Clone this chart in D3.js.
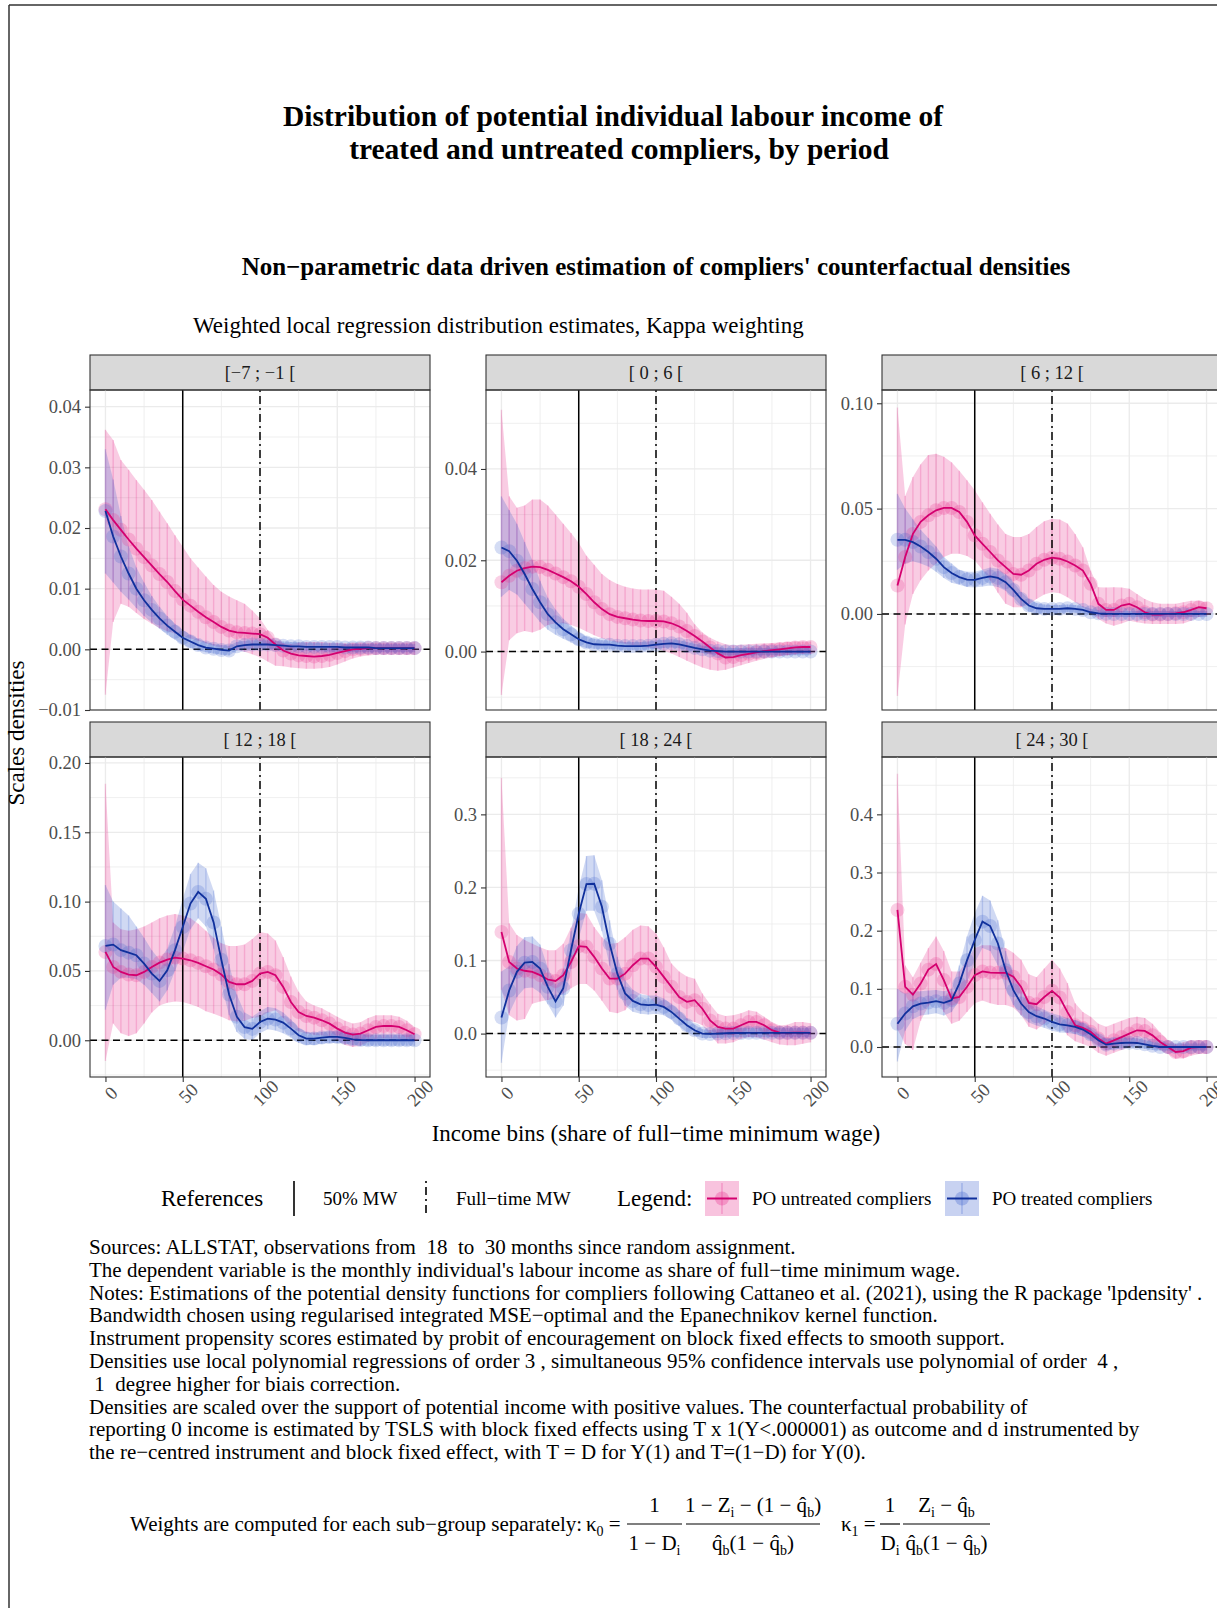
<!DOCTYPE html>
<html>
<head>
<meta charset="utf-8">
<script src="https://cdn.jsdelivr.net/npm/d3@7"></script>
<style>
  body { margin: 0; background: #fff; }
  svg { display: block; }
</style>
</head>
<body>
<script>
// income bins (share of full-time minimum wage)
var bins = [0,5,10,15,20,25,30,35,40,45,50,55,60,65,70,75,80,85,90,95,100,105,110,115,120,125,130,135,140,145,150,155,160,165,170,175,180,185,190,195,200];
var periods = ["[\u22127 ; \u22121 [", "[ 0 ; 6 [", "[ 6 ; 12 [", "[ 12 ; 18 [", "[ 18 ; 24 [", "[ 24 ; 30 ["];
var xTicks = [0, 50, 100, 150, 200];
var refHalfMW = 50, refFullMW = 100;

// y limits and ticks of each facet (free y scales)
var yLimits = [[-0.01, 0.04275], [-0.0128, 0.0573], [-0.0456, 0.1063], [-0.0265, 0.2043], [-0.0594, 0.3785], [-0.0516, 0.4986]];
var yTicks = [[-0.01,0,0.01,0.02,0.03,0.04], [0,0.02,0.04], [0,0.05,0.1], [0,0.05,0.1,0.15,0.2], [0,0.1,0.2,0.3], [0,0.1,0.2,0.3,0.4]];
var yFormats = [".2f", ".2f", ".2f", ".2f", ".1f", ".1f"];

// [-7 ; -1 [
var untreatedEst1 = [0.0231,0.0213,0.0197,0.0181,0.0166,0.0152,0.0138,0.0124,0.0111,0.0096,0.0082,0.0072,0.0062,0.0053,0.0045,0.0037,0.0031,0.0028,0.0027,0.0026,0.0025,0.0019,0.0008,-0.0002,-0.0007,-0.0010,-0.0011,-0.0012,-0.0011,-0.0009,-0.0006,-0.0003,0.0000,0.0001,0.0002,0.0002,0.0002,0.0002,0.0002,0.0002,0.0002];
var untreatedLo1 = [-0.0075,0.0045,0.0075,0.0070,0.0060,0.0050,0.0042,0.0035,0.0030,0.0026,0.0022,0.0018,0.0014,0.0010,0.0006,0.0003,0.0001,-0.0001,-0.0004,-0.0008,-0.0013,-0.0020,-0.0027,-0.0028,-0.0030,-0.0031,-0.0032,-0.0032,-0.0031,-0.0029,-0.0025,-0.0020,-0.0015,-0.0012,-0.0010,-0.0009,-0.0009,-0.0009,-0.0009,-0.0009,-0.0009];
var untreatedHi1 = [0.0362,0.0345,0.0312,0.0296,0.0279,0.0263,0.0246,0.0227,0.0208,0.0188,0.0169,0.0150,0.0135,0.0120,0.0106,0.0095,0.0087,0.0081,0.0075,0.0064,0.0051,0.0032,0.0015,0.0010,0.0009,0.0011,0.0012,0.0012,0.0012,0.0011,0.0011,0.0010,0.0010,0.0010,0.0010,0.0011,0.0011,0.0011,0.0011,0.0011,0.0012];
var treatedEst1 = [0.0228,0.0186,0.0153,0.0125,0.0100,0.0081,0.0065,0.0051,0.0039,0.0029,0.0019,0.0013,0.0007,0.0003,0.0001,-0.0001,-0.0002,0.0005,0.0007,0.0008,0.0008,0.0008,0.0007,0.0006,0.0005,0.0005,0.0004,0.0004,0.0004,0.0004,0.0004,0.0003,0.0003,0.0003,0.0003,0.0002,0.0002,0.0002,0.0002,0.0002,0.0002];
var treatedLo1 = [0.0125,0.0110,0.0095,0.0082,0.0068,0.0055,0.0044,0.0034,0.0024,0.0016,0.0008,0.0002,-0.0002,-0.0005,-0.0007,-0.0009,-0.0010,-0.0002,0.0000,0.0001,0.0001,0.0001,0.0000,0.0000,-0.0001,-0.0002,-0.0002,-0.0003,-0.0003,-0.0004,-0.0004,-0.0004,-0.0005,-0.0005,-0.0005,-0.0005,-0.0005,-0.0005,-0.0005,-0.0005,-0.0005];
var treatedHi1 = [0.0330,0.0280,0.0220,0.0170,0.0135,0.0110,0.0088,0.0070,0.0055,0.0042,0.0032,0.0024,0.0017,0.0012,0.0009,0.0007,0.0006,0.0012,0.0014,0.0015,0.0015,0.0015,0.0014,0.0013,0.0012,0.0012,0.0011,0.0011,0.0010,0.0010,0.0010,0.0009,0.0009,0.0009,0.0009,0.0009,0.0009,0.0009,0.0009,0.0009,0.0009];

// [ 0 ; 6 [
var untreatedEst2 = [0.0152,0.0166,0.0177,0.0183,0.0186,0.0185,0.0179,0.0171,0.0163,0.0154,0.0142,0.0126,0.0108,0.0093,0.0082,0.0076,0.0073,0.0070,0.0068,0.0067,0.0067,0.0066,0.0062,0.0055,0.0045,0.0034,0.0022,0.0009,-0.0004,-0.0013,-0.0012,-0.0008,-0.0005,-0.0002,0.0001,0.0003,0.0005,0.0007,0.0009,0.0010,0.0010];
var untreatedLo2 = [-0.0095,0.0025,0.0040,0.0045,0.0042,0.0048,0.0058,0.0062,0.0062,0.0058,0.0052,0.0044,0.0036,0.0029,0.0024,0.0020,0.0017,0.0014,0.0011,0.0009,0.0006,0.0002,-0.0004,-0.0012,-0.0020,-0.0028,-0.0035,-0.0040,-0.0042,-0.0040,-0.0035,-0.0030,-0.0025,-0.0020,-0.0016,-0.0013,-0.0010,-0.0008,-0.0006,-0.0005,-0.0005];
var untreatedHi2 = [0.0530,0.0340,0.0315,0.0320,0.0333,0.0333,0.0320,0.0300,0.0280,0.0260,0.0238,0.0210,0.0190,0.0170,0.0157,0.0148,0.0142,0.0138,0.0136,0.0136,0.0136,0.0133,0.0120,0.0105,0.0085,0.0060,0.0042,0.0030,0.0022,0.0016,0.0014,0.0015,0.0016,0.0017,0.0018,0.0019,0.0020,0.0021,0.0022,0.0022,0.0022];
var treatedEst2 = [0.0228,0.0220,0.0199,0.0170,0.0137,0.0108,0.0082,0.0064,0.0049,0.0038,0.0027,0.0020,0.0016,0.0015,0.0015,0.0013,0.0012,0.0012,0.0012,0.0013,0.0015,0.0017,0.0018,0.0016,0.0012,0.0008,0.0005,0.0002,0.0001,0.0000,0.0000,0.0000,0.0000,0.0000,0.0000,0.0000,0.0000,0.0000,0.0000,0.0000,0.0000];
var treatedLo2 = [0.0120,0.0135,0.0125,0.0105,0.0085,0.0065,0.0048,0.0037,0.0028,0.0020,0.0012,0.0008,0.0006,0.0005,0.0005,0.0004,0.0003,0.0003,0.0003,0.0004,0.0006,0.0008,0.0009,0.0007,0.0003,-0.0001,-0.0003,-0.0006,-0.0007,-0.0008,-0.0008,-0.0008,-0.0008,-0.0008,-0.0008,-0.0008,-0.0008,-0.0008,-0.0008,-0.0008,-0.0008];
var treatedHi2 = [0.0340,0.0310,0.0280,0.0240,0.0200,0.0155,0.0118,0.0092,0.0072,0.0057,0.0043,0.0033,0.0028,0.0025,0.0024,0.0022,0.0021,0.0021,0.0021,0.0022,0.0024,0.0026,0.0027,0.0025,0.0021,0.0017,0.0013,0.0010,0.0009,0.0008,0.0008,0.0008,0.0008,0.0008,0.0008,0.0008,0.0008,0.0008,0.0008,0.0008,0.0008];

// [ 6 ; 12 [
var untreatedEst3 = [0.0135,0.0270,0.0380,0.0437,0.0468,0.0492,0.0503,0.0503,0.0484,0.0437,0.0373,0.0333,0.0294,0.0254,0.0222,0.0190,0.0186,0.0206,0.0238,0.0257,0.0267,0.0262,0.0249,0.0230,0.0206,0.0143,0.0048,0.0019,0.0019,0.0040,0.0048,0.0032,0.0008,-0.0003,-0.0003,0.0000,0.0003,0.0008,0.0019,0.0032,0.0027];
var untreatedLo3 = [-0.0390,-0.0050,0.0095,0.0160,0.0206,0.0240,0.0270,0.0286,0.0286,0.0275,0.0254,0.0210,0.0159,0.0100,0.0048,0.0032,0.0032,0.0045,0.0071,0.0092,0.0103,0.0098,0.0079,0.0055,0.0032,0.0005,-0.0024,-0.0045,-0.0056,-0.0045,-0.0032,-0.0040,-0.0045,-0.0048,-0.0048,-0.0048,-0.0048,-0.0045,-0.0032,-0.0015,-0.0008];
var untreatedHi3 = [0.0980,0.0560,0.0650,0.0710,0.0754,0.0760,0.0746,0.0720,0.0680,0.0635,0.0587,0.0530,0.0476,0.0425,0.0380,0.0365,0.0365,0.0380,0.0413,0.0440,0.0452,0.0448,0.0429,0.0380,0.0317,0.0206,0.0127,0.0125,0.0127,0.0125,0.0120,0.0095,0.0071,0.0055,0.0048,0.0048,0.0048,0.0055,0.0063,0.0063,0.0056];
var treatedEst3 = [0.0352,0.0352,0.0341,0.0320,0.0294,0.0262,0.0222,0.0194,0.0175,0.0163,0.0162,0.0171,0.0178,0.0171,0.0151,0.0114,0.0071,0.0040,0.0027,0.0024,0.0024,0.0024,0.0027,0.0024,0.0019,0.0008,0.0003,0.0001,0.0000,0.0000,0.0000,0.0000,0.0000,0.0000,0.0000,0.0000,0.0000,0.0000,0.0000,0.0000,0.0000];
var treatedLo3 = [0.0210,0.0240,0.0250,0.0240,0.0225,0.0200,0.0170,0.0148,0.0138,0.0128,0.0125,0.0130,0.0135,0.0128,0.0110,0.0078,0.0038,0.0010,0.0002,0.0002,0.0004,0.0005,0.0008,0.0006,0.0002,-0.0008,-0.0012,-0.0014,-0.0014,-0.0014,-0.0014,-0.0014,-0.0014,-0.0014,-0.0014,-0.0014,-0.0014,-0.0014,-0.0014,-0.0014,-0.0014];
var treatedHi3 = [0.0570,0.0500,0.0450,0.0400,0.0360,0.0320,0.0270,0.0240,0.0210,0.0200,0.0200,0.0210,0.0220,0.0215,0.0190,0.0150,0.0105,0.0072,0.0052,0.0045,0.0043,0.0043,0.0045,0.0042,0.0036,0.0025,0.0018,0.0015,0.0014,0.0014,0.0014,0.0014,0.0014,0.0014,0.0014,0.0014,0.0014,0.0014,0.0014,0.0014,0.0014];

// [ 12 ; 18 [
var untreatedEst4 = [0.0637,0.0529,0.0493,0.0474,0.0469,0.0493,0.0529,0.0560,0.0582,0.0596,0.0589,0.0577,0.0558,0.0534,0.0510,0.0474,0.0421,0.0404,0.0404,0.0428,0.0481,0.0493,0.0469,0.0385,0.0276,0.0204,0.0175,0.0163,0.0144,0.0120,0.0084,0.0055,0.0041,0.0048,0.0072,0.0096,0.0103,0.0103,0.0096,0.0072,0.0043];
var untreatedLo4 = [-0.0150,0.0120,0.0050,0.0030,0.0050,0.0120,0.0200,0.0250,0.0270,0.0280,0.0276,0.0260,0.0240,0.0210,0.0192,0.0170,0.0144,0.0135,0.0140,0.0160,0.0168,0.0200,0.0216,0.0160,0.0096,0.0065,0.0048,0.0040,0.0036,0.0020,0.0000,-0.0035,-0.0048,-0.0040,-0.0010,0.0010,0.0015,0.0012,0.0010,0.0005,-0.0005];
var untreatedHi4 = [0.1850,0.0850,0.0800,0.0790,0.0800,0.0820,0.0850,0.0880,0.0900,0.0910,0.0900,0.0880,0.0840,0.0790,0.0740,0.0700,0.0680,0.0680,0.0690,0.0730,0.0780,0.0770,0.0720,0.0600,0.0460,0.0350,0.0280,0.0250,0.0230,0.0200,0.0170,0.0140,0.0120,0.0130,0.0160,0.0180,0.0180,0.0180,0.0170,0.0140,0.0096];
var treatedEst4 = [0.0680,0.0690,0.0650,0.0632,0.0613,0.0553,0.0481,0.0428,0.0505,0.0650,0.0817,0.0986,0.1070,0.1020,0.0850,0.0580,0.0330,0.0170,0.0095,0.0082,0.0132,0.0156,0.0149,0.0127,0.0084,0.0036,0.0012,0.0012,0.0019,0.0024,0.0024,0.0017,0.0007,0.0002,0.0000,0.0000,0.0000,0.0000,0.0000,0.0000,0.0000];
var treatedLo4 = [0.0220,0.0400,0.0450,0.0450,0.0440,0.0400,0.0340,0.0280,0.0360,0.0500,0.0640,0.0800,0.0880,0.0820,0.0660,0.0400,0.0180,0.0060,0.0010,0.0000,0.0050,0.0080,0.0070,0.0050,0.0020,-0.0020,-0.0035,-0.0035,-0.0025,-0.0020,-0.0020,-0.0025,-0.0035,-0.0040,-0.0040,-0.0040,-0.0040,-0.0040,-0.0040,-0.0040,-0.0040];
var treatedHi4 = [0.1120,0.1000,0.0950,0.0900,0.0820,0.0740,0.0650,0.0580,0.0660,0.0820,0.1020,0.1200,0.1280,0.1240,0.1080,0.0820,0.0550,0.0330,0.0200,0.0170,0.0210,0.0240,0.0230,0.0200,0.0150,0.0090,0.0060,0.0055,0.0060,0.0065,0.0065,0.0060,0.0050,0.0045,0.0040,0.0040,0.0040,0.0040,0.0040,0.0040,0.0040];

// [ 18 ; 24 [
var untreatedEst5 = [0.1390,0.0980,0.0890,0.0860,0.0845,0.0800,0.0740,0.0720,0.0800,0.0980,0.1196,0.1187,0.1050,0.0890,0.0753,0.0753,0.0820,0.0936,0.1027,0.1027,0.0913,0.0776,0.0640,0.0500,0.0434,0.0457,0.0340,0.0180,0.0091,0.0068,0.0068,0.0114,0.0160,0.0160,0.0114,0.0046,0.0014,0.0010,0.0014,0.0014,0.0010];
var untreatedLo5 = [0.0600,0.0250,0.0180,0.0200,0.0410,0.0440,0.0460,0.0480,0.0550,0.0620,0.0680,0.0680,0.0590,0.0450,0.0300,0.0280,0.0320,0.0450,0.0550,0.0520,0.0410,0.0360,0.0320,0.0220,0.0180,0.0160,0.0114,-0.0020,-0.0137,-0.0137,-0.0120,-0.0070,-0.0046,-0.0050,-0.0080,-0.0120,-0.0150,-0.0160,-0.0160,-0.0140,-0.0120];
var untreatedHi5 = [0.3500,0.1510,0.1350,0.1280,0.1230,0.1180,0.1140,0.1140,0.1230,0.1450,0.1650,0.1640,0.1460,0.1320,0.1230,0.1240,0.1320,0.1420,0.1480,0.1470,0.1370,0.1180,0.0960,0.0850,0.0780,0.0750,0.0550,0.0400,0.0270,0.0240,0.0250,0.0280,0.0320,0.0300,0.0230,0.0160,0.0110,0.0120,0.0160,0.0160,0.0140];
var treatedEst5 = [0.0220,0.0590,0.0845,0.0970,0.0980,0.0890,0.0640,0.0440,0.0620,0.1140,0.1640,0.2046,0.2050,0.1735,0.1230,0.0820,0.0550,0.0447,0.0400,0.0390,0.0397,0.0365,0.0297,0.0205,0.0114,0.0046,0.0000,-0.0005,0.0000,0.0005,0.0008,0.0008,0.0010,0.0010,0.0010,0.0010,0.0010,0.0010,0.0010,0.0010,0.0010];
var treatedLo5 = [-0.0400,0.0280,0.0500,0.0620,0.0630,0.0560,0.0400,0.0220,0.0380,0.0880,0.1300,0.1680,0.1680,0.1400,0.0930,0.0600,0.0380,0.0300,0.0270,0.0260,0.0270,0.0250,0.0190,0.0100,0.0020,-0.0030,-0.0060,-0.0060,-0.0060,-0.0055,-0.0050,-0.0050,-0.0050,-0.0050,-0.0050,-0.0050,-0.0050,-0.0050,-0.0050,-0.0050,-0.0050];
var treatedHi5 = [0.0850,0.0920,0.1200,0.1320,0.1330,0.1220,0.0900,0.0680,0.0880,0.1400,0.2000,0.2430,0.2440,0.2100,0.1550,0.1050,0.0730,0.0600,0.0540,0.0520,0.0520,0.0480,0.0410,0.0320,0.0210,0.0120,0.0060,0.0050,0.0060,0.0070,0.0075,0.0075,0.0080,0.0080,0.0080,0.0080,0.0080,0.0080,0.0080,0.0080,0.0080];

// [ 24 ; 30 [
var untreatedEst6 = [0.2356,0.1034,0.0900,0.1090,0.1330,0.1425,0.1150,0.0833,0.0860,0.1034,0.1236,0.1300,0.1280,0.1276,0.1276,0.1207,0.1034,0.0759,0.0736,0.0860,0.0966,0.0850,0.0600,0.0374,0.0328,0.0260,0.0144,0.0057,0.0115,0.0170,0.0230,0.0287,0.0276,0.0200,0.0086,0.0000,-0.0086,-0.0070,-0.0010,0.0000,0.0000];
var untreatedLo6 = [0.0300,0.0050,-0.0050,0.0450,0.0700,0.0850,0.0600,0.0400,0.0450,0.0600,0.0750,0.0800,0.0750,0.0720,0.0720,0.0680,0.0550,0.0350,0.0300,0.0400,0.0500,0.0400,0.0200,0.0100,0.0050,0.0000,-0.0100,-0.0150,-0.0100,-0.0050,0.0000,0.0050,0.0050,0.0000,-0.0050,-0.0120,-0.0200,-0.0200,-0.0150,-0.0120,-0.0120];
var untreatedHi6 = [0.4700,0.1400,0.1200,0.1450,0.1700,0.1900,0.1650,0.1300,0.1300,0.1500,0.1700,0.1750,0.1750,0.1720,0.1700,0.1620,0.1500,0.1250,0.1200,0.1350,0.1500,0.1350,0.1100,0.0750,0.0600,0.0520,0.0400,0.0350,0.0400,0.0450,0.0500,0.0520,0.0500,0.0400,0.0250,0.0120,0.0050,0.0080,0.0120,0.0120,0.0120];
var treatedEst6 = [0.0400,0.0575,0.0700,0.0747,0.0764,0.0787,0.0759,0.0805,0.1090,0.1490,0.1840,0.2155,0.2080,0.1780,0.1320,0.0977,0.0747,0.0600,0.0529,0.0489,0.0430,0.0390,0.0370,0.0345,0.0300,0.0218,0.0115,0.0040,0.0057,0.0069,0.0075,0.0069,0.0046,0.0020,0.0000,0.0000,0.0000,0.0000,0.0000,0.0000,0.0000];
var treatedLo6 = [-0.0250,0.0280,0.0480,0.0540,0.0560,0.0580,0.0540,0.0600,0.0800,0.1100,0.1450,0.1700,0.1650,0.1400,0.1000,0.0720,0.0540,0.0420,0.0370,0.0330,0.0280,0.0250,0.0240,0.0220,0.0180,0.0110,0.0020,-0.0050,-0.0040,-0.0020,0.0000,-0.0010,-0.0030,-0.0050,-0.0060,-0.0060,-0.0060,-0.0060,-0.0060,-0.0060,-0.0060];
var treatedHi6 = [0.1000,0.0920,0.0950,0.0960,0.0970,0.0980,0.0960,0.1000,0.1400,0.1900,0.2300,0.2600,0.2520,0.2180,0.1650,0.1250,0.0970,0.0800,0.0700,0.0640,0.0580,0.0540,0.0500,0.0460,0.0420,0.0320,0.0220,0.0140,0.0150,0.0160,0.0160,0.0150,0.0120,0.0090,0.0060,0.0060,0.0060,0.0060,0.0060,0.0060,0.0060];

var notes = [
  "Sources: ALLSTAT, observations from  18  to  30 months since random assignment.",
  "The dependent variable is the monthly individual's labour income as share of full\u2212time minimum wage.",
  "Notes: Estimations of the potential density functions for compliers following Cattaneo et al. (2021), using the R package 'lpdensity' .",
  "Bandwidth chosen using regularised integrated MSE\u2212optimal and the Epanechnikov kernel function.",
  "Instrument propensity scores estimated by probit of encouragement on block fixed effects to smooth support.",
  "Densities use local polynomial regressions of order 3 , simultaneous 95% confidence intervals use polynomial of order  4 ,",
  " 1  degree higher for biais correction.",
  "Densities are scaled over the support of potential income with positive values. The counterfactual probability of",
  "reporting 0 income is estimated by TSLS with block fixed effects using T x 1(Y<.000001) as outcome and d instrumented by",
  "the re\u2212centred instrument and block fixed effect, with T = D for Y(1) and T=(1\u2212D) for Y(0)."
];

// facet table built from the arrays above
var facets = [
  {untreated: [untreatedEst1, untreatedLo1, untreatedHi1], treated: [treatedEst1, treatedLo1, treatedHi1]},
  {untreated: [untreatedEst2, untreatedLo2, untreatedHi2], treated: [treatedEst2, treatedLo2, treatedHi2]},
  {untreated: [untreatedEst3, untreatedLo3, untreatedHi3], treated: [treatedEst3, treatedLo3, treatedHi3]},
  {untreated: [untreatedEst4, untreatedLo4, untreatedHi4], treated: [treatedEst4, treatedLo4, treatedHi4]},
  {untreated: [untreatedEst5, untreatedLo5, untreatedHi5], treated: [treatedEst5, treatedLo5, treatedHi5]},
  {untreated: [untreatedEst6, untreatedLo6, untreatedHi6], treated: [treatedEst6, treatedLo6, treatedHi6]}
];

var FONT = '"Liberation Serif", "Times New Roman", serif';
var pinkLine = "#d4006f", pinkFill = "#e7298a";
var blueLine = "#10309c", blueFill = "#3a5fcd";

var width = 1217, height = 1608;
var colLeft = [90, 486, 882], rowTop = [355, 722];
var stripH = 35, panelW = 340, panelH = 320;

var svg = d3.select("body").append("svg")
    .attr("width", width)
    .attr("height", height)
    .style("font-family", FONT);

svg.append("rect").attr("width", width).attr("height", height).attr("fill", "#fff");

// page frame
svg.append("line").attr("x1", 9).attr("x2", width).attr("y1", 5).attr("y2", 5)
    .attr("stroke", "#333").attr("stroke-width", 1.5);
svg.append("line").attr("x1", 9).attr("x2", 9).attr("y1", 5).attr("y2", height)
    .attr("stroke", "#333").attr("stroke-width", 1.5);

// titles
svg.append("text").attr("x", 613).attr("y", 125.5).attr("text-anchor", "middle")
    .style("font-size", "29.5px").style("font-weight", "bold")
    .text("Distribution of potential individual labour income of");
svg.append("text").attr("x", 619).attr("y", 158.5).attr("text-anchor", "middle")
    .style("font-size", "29.5px").style("font-weight", "bold")
    .text("treated and untreated compliers, by period");
svg.append("text").attr("x", 656).attr("y", 274.5).attr("text-anchor", "middle")
    .style("font-size", "25px").style("font-weight", "bold")
    .text("Non\u2212parametric data driven estimation of compliers' counterfactual densities");
svg.append("text").attr("x", 193).attr("y", 333)
    .style("font-size", "23px")
    .text("Weighted local regression distribution estimates, Kappa weighting");

var x = d3.scaleLinear().domain([-10, 210]).range([0, panelW]);

facets.forEach(function(f, i) {
    var col = i % 3, row = Math.floor(i / 3);
    var left = colLeft[col], top = rowTop[row] + stripH;
    var y = d3.scaleLinear().domain(yLimits[i]).range([panelH, 0]);

    // strip
    svg.append("rect")
        .attr("x", left).attr("y", rowTop[row])
        .attr("width", panelW).attr("height", stripH)
        .attr("fill", "#d9d9d9").attr("stroke", "#333").attr("stroke-width", 1.1);
    svg.append("text")
        .attr("x", left + panelW / 2).attr("y", rowTop[row] + stripH / 2)
        .attr("dy", "0.35em").attr("text-anchor", "middle")
        .attr("fill", "#1a1a1a").style("font-size", "18.5px")
        .text(periods[i]);

    var g = svg.append("g").attr("transform", "translate(" + left + "," + top + ")");
    g.append("clipPath").attr("id", "clip" + i)
        .append("rect").attr("width", panelW).attr("height", panelH);

    // grid
    var majors = yTicks[i], step = majors[1] - majors[0];
    var minors = majors.map(function(v) { return v - step / 2; })
        .concat([majors[majors.length - 1] + step / 2])
        .filter(function(v) { return v > yLimits[i][0] && v < yLimits[i][1]; });
    var grid = g.append("g").attr("stroke", "#ebebeb");
    grid.selectAll(".ymin").data(minors).enter().append("line")
        .attr("x1", 0).attr("x2", panelW)
        .attr("y1", function(d) { return y(d); }).attr("y2", function(d) { return y(d); })
        .attr("stroke-width", 0.8);
    grid.selectAll(".ymaj").data(majors).enter().append("line")
        .attr("x1", 0).attr("x2", panelW)
        .attr("y1", function(d) { return y(d); }).attr("y2", function(d) { return y(d); })
        .attr("stroke-width", 1.3);
    grid.selectAll(".xmin").data([25, 75, 125, 175]).enter().append("line")
        .attr("y1", 0).attr("y2", panelH)
        .attr("x1", function(d) { return x(d); }).attr("x2", function(d) { return x(d); })
        .attr("stroke-width", 0.8);
    grid.selectAll(".xmaj").data(xTicks).enter().append("line")
        .attr("y1", 0).attr("y2", panelH)
        .attr("x1", function(d) { return x(d); }).attr("x2", function(d) { return x(d); })
        .attr("stroke-width", 1.3);

    var body = g.append("g").attr("clip-path", "url(#clip" + i + ")");

    var series = [
        {v: f.untreated, line: pinkLine, fill: pinkFill},
        {v: f.treated, line: blueLine, fill: blueFill}
    ];
    series.forEach(function(s) {
        s.pts = bins.map(function(b, k) {
            return {b: b, m: s.v[0][k], lo: s.v[1][k], hi: s.v[2][k]};
        });
    });

    // confidence ribbons
    var area = d3.area()
        .x(function(d) { return x(d.b); })
        .y0(function(d) { return y(d.lo); })
        .y1(function(d) { return y(d.hi); });
    series.forEach(function(s) {
        body.append("path").datum(s.pts)
            .attr("d", area).attr("fill", s.fill).attr("fill-opacity", 0.24);
    });

    // error bars
    series.forEach(function(s) {
        body.append("g").selectAll("line").data(s.pts).enter().append("line")
            .attr("x1", function(d) { return x(d.b); }).attr("x2", function(d) { return x(d.b); })
            .attr("y1", function(d) { return y(d.lo); }).attr("y2", function(d) { return y(d.hi); })
            .attr("stroke", s.fill).attr("stroke-opacity", 0.22).attr("stroke-width", 1.4);
    });

    // reference lines
    body.append("line").attr("x1", 0).attr("x2", panelW).attr("y1", y(0)).attr("y2", y(0))
        .attr("stroke", "#000").attr("stroke-width", 1.5).attr("stroke-dasharray", "7,4.5");
    body.append("line").attr("x1", x(refHalfMW)).attr("x2", x(refHalfMW)).attr("y1", 0).attr("y2", panelH)
        .attr("stroke", "#000").attr("stroke-width", 1.5);
    body.append("line").attr("x1", x(refFullMW)).attr("x2", x(refFullMW)).attr("y1", 0).attr("y2", panelH)
        .attr("stroke", "#000").attr("stroke-width", 1.5).attr("stroke-dasharray", "2,4,8,4");

    // points
    series.forEach(function(s) {
        body.append("g").selectAll("circle").data(s.pts).enter().append("circle")
            .attr("cx", function(d) { return x(d.b); })
            .attr("cy", function(d) { return y(d.m); })
            .attr("r", 7)
            .attr("fill", s.fill).attr("fill-opacity", 0.22);
    });

    // estimate lines
    var line = d3.line()
        .x(function(d) { return x(d.b); })
        .y(function(d) { return y(d.m); });
    series.forEach(function(s) {
        body.append("path").datum(s.pts)
            .attr("d", line).attr("fill", "none")
            .attr("stroke", s.line).attr("stroke-width", 1.8);
    });

    // panel border
    g.append("rect").attr("width", panelW).attr("height", panelH)
        .attr("fill", "none").attr("stroke", "#333").attr("stroke-width", 1.1);

    // y axis
    var ya = g.append("g")
        .call(d3.axisLeft(y).tickValues(yTicks[i]).tickFormat(d3.format(yFormats[i])).tickSize(5).tickPadding(4));
    ya.attr("font-family", null).attr("font-size", null);
    ya.select(".domain").remove();
    ya.selectAll(".tick line").attr("stroke", "#333").attr("stroke-width", 1.1);
    ya.selectAll(".tick text").attr("fill", "#4d4d4d").style("font-size", "18.5px");

    // x axis on bottom row
    if (row === 1) {
        var xa = g.append("g").attr("transform", "translate(0," + panelH + ")")
            .call(d3.axisBottom(x).tickValues(xTicks).tickSize(5));
        xa.attr("font-family", null).attr("font-size", null);
        xa.select(".domain").remove();
        xa.selectAll(".tick line").attr("stroke", "#333").attr("stroke-width", 1.1);
        xa.selectAll(".tick text")
            .attr("y", 0).attr("dy", "0.35em")
            .attr("text-anchor", "middle")
            .attr("transform", "translate(5,16) rotate(-45)")
            .attr("fill", "#4d4d4d").style("font-size", "18.5px");
    }
});

// axis titles
svg.append("text").attr("transform", "translate(24,733) rotate(-90)")
    .attr("text-anchor", "middle").style("font-size", "23px").text("Scales densities");
svg.append("text").attr("x", 656).attr("y", 1141).attr("text-anchor", "middle")
    .style("font-size", "23px").text("Income bins (share of full\u2212time minimum wage)");

// legend row
var lg = svg.append("g");
lg.append("text").attr("x", 161).attr("y", 1206).style("font-size", "23px").text("References");
lg.append("line").attr("x1", 294).attr("x2", 294).attr("y1", 1181).attr("y2", 1216)
    .attr("stroke", "#000").attr("stroke-width", 1.6);
lg.append("text").attr("x", 323).attr("y", 1205).style("font-size", "19px").text("50% MW");
lg.append("line").attr("x1", 426).attr("x2", 426).attr("y1", 1181).attr("y2", 1216)
    .attr("stroke", "#000").attr("stroke-width", 1.6).attr("stroke-dasharray", "2,4,8,4");
lg.append("text").attr("x", 456).attr("y", 1205).style("font-size", "19px").text("Full\u2212time MW");
lg.append("text").attr("x", 617).attr("y", 1206).style("font-size", "23px").text("Legend:");

[{x: 705, fill: pinkFill, line: pinkLine, label: "PO untreated compliers"},
 {x: 945, fill: blueFill, line: blueLine, label: "PO treated compliers"}].forEach(function(k) {
    lg.append("rect").attr("x", k.x).attr("y", 1181).attr("width", 34).attr("height", 35)
        .attr("fill", k.fill).attr("fill-opacity", 0.28);
    lg.append("line").attr("x1", k.x + 17).attr("x2", k.x + 17).attr("y1", 1183).attr("y2", 1214)
        .attr("stroke", k.fill).attr("stroke-opacity", 0.3).attr("stroke-width", 1.4);
    lg.append("circle").attr("cx", k.x + 17).attr("cy", 1198.5).attr("r", 7)
        .attr("fill", k.fill).attr("fill-opacity", 0.3);
    lg.append("line").attr("x1", k.x + 2).attr("x2", k.x + 32).attr("y1", 1198.5).attr("y2", 1198.5)
        .attr("stroke", k.line).attr("stroke-width", 2);
    lg.append("text").attr("x", k.x + 47).attr("y", 1205).style("font-size", "19px").text(k.label);
});

// notes
svg.append("g").selectAll("text").data(notes).enter().append("text")
    .attr("x", 89)
    .attr("y", function(d, k) { return 1254 + k * 22.8; })
    .style("font-size", "21px").style("white-space", "pre")
    .text(function(d) { return d; });

// kappa weights formula
function mathText(x0, y0, anchor, parts) {
    var t = svg.append("text").attr("x", x0).attr("y", y0).attr("text-anchor", anchor)
        .style("font-size", "21px").style("white-space", "pre");
    var down = false;
    parts.forEach(function(p) {
        var ts = t.append("tspan").text(p[0]);
        if (p[1]) {
            ts.style("font-size", "14px");
            if (!down) { ts.attr("dy", 5); down = true; }
        } else if (down) {
            ts.attr("dy", -5); down = false;
        }
    });
}
function fracBar(x1, x2) {
    svg.append("line").attr("x1", x1).attr("x2", x2).attr("y1", 1524).attr("y2", 1524)
        .attr("stroke", "#000").attr("stroke-width", 1.2);
}
var qh = "q\u0302";
mathText(130, 1531, "start", [["Weights are computed for each sub\u2212group separately: "]]);
mathText(586, 1531, "start", [["\u03ba"], ["0", 1], [" ="]]);
fracBar(627, 682);
mathText(654.5, 1512, "middle", [["1"]]);
mathText(654.5, 1550, "middle", [["1 \u2212 D"], ["i", 1]]);
fracBar(686, 820);
mathText(753, 1512, "middle", [["1 \u2212 Z"], ["i", 1], [" \u2212 (1 \u2212 " + qh], ["b", 1], [")"]]);
mathText(753, 1550, "middle", [[qh], ["b", 1], ["(1 \u2212 " + qh], ["b", 1], [")"]]);
mathText(841, 1531, "start", [["\u03ba"], ["1", 1], [" ="]]);
fracBar(880, 900);
mathText(890, 1512, "middle", [["1"]]);
mathText(890, 1550, "middle", [["D"], ["i", 1]]);
fracBar(903, 990);
mathText(946.5, 1512, "middle", [["Z"], ["i", 1], [" \u2212 " + qh], ["b", 1]]);
mathText(946.5, 1550, "middle", [[qh], ["b", 1], ["(1 \u2212 " + qh], ["b", 1], [")"]]);
</script>
</body>
</html>
